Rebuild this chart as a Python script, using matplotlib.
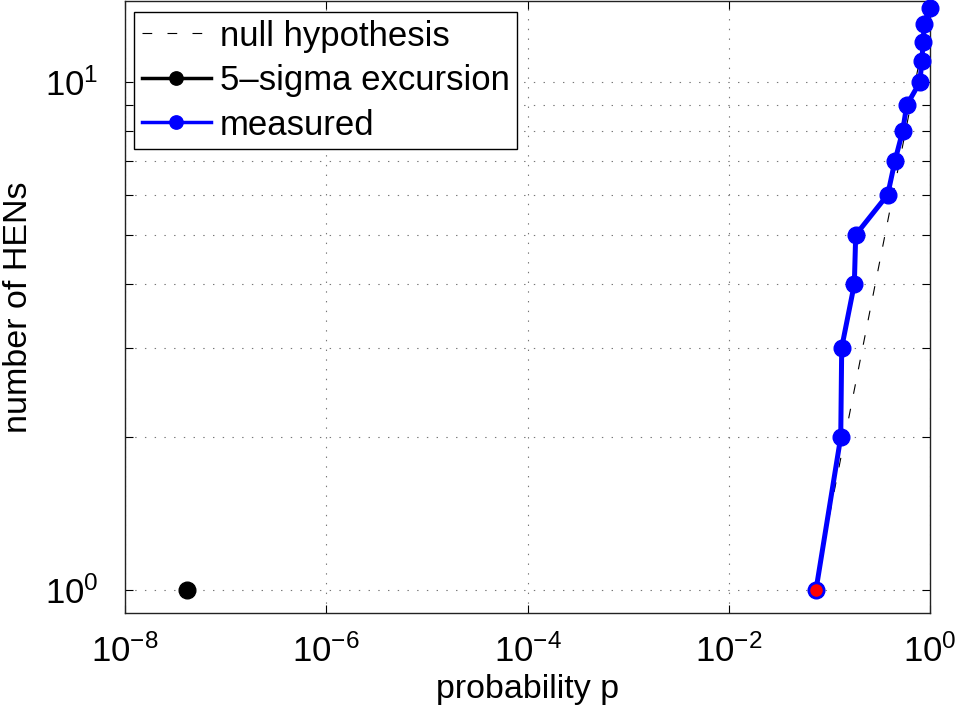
import matplotlib
matplotlib.use("Agg")
import matplotlib.pyplot as plt
from matplotlib.ticker import FixedLocator, NullLocator, NullFormatter, LogFormatterSciNotation
import numpy as np

plt.rcParams['font.family'] = ['Liberation Sans', 'DejaVu Sans']
plt.rcParams['lines.scale_dashes'] = False

# data
measured_n = [1, 2, 3, 4, 5, 6, 7, 8, 9, 10, 11, 12, 13, 14]
measured_p = [0.0736, 0.1297, 0.1326, 0.177, 0.1827, 0.380, 0.449, 0.535,
              0.587, 0.796, 0.827, 0.858, 0.872, 0.99]
null_n = [1, 2, 3, 4, 5, 6, 7, 8, 9, 10, 11, 12, 13, 14]
null_p = [n / 14.0 for n in null_n]
sigma5_n = [1]
sigma5_p = [4.1e-8]
x_ticks = [1e-8, 1e-6, 1e-4, 1e-2, 1e0]
y_major = [1, 10]
y_minor = [2, 3, 4, 5, 6, 7, 8, 9]

fig = plt.figure(figsize=(9.59, 7.15), dpi=100)
ax = fig.add_axes([125/959, 1 - 613/715, (930-125)/959, (613-1)/715])

ax.set_xscale('log')
ax.set_yscale('log')

l_null, = ax.plot(null_p, null_n, color='k', lw=0.8, dashes=(7, 11), zorder=3)
l_sig, = ax.plot(sigma5_p, sigma5_n, '-o', color='k', lw=2.5, ms=12, zorder=4)
l_meas, = ax.plot(measured_p, measured_n, '-o', color='#0000ff', lw=3.6, ms=12,
                  mec='#0000ff', zorder=4, clip_on=False)
ax.plot(measured_p[:1], measured_n[:1], 'o', mfc='#ff0000', mec='#0000ff',
        mew=1.5, ms=10.5, zorder=5)

ax.set_xlim(1e-8, 1)
ax.set_ylim(0.901, 14.43)

ax.xaxis.set_major_locator(FixedLocator(x_ticks))
ax.xaxis.set_minor_locator(NullLocator())
ax.xaxis.set_major_formatter(LogFormatterSciNotation())
ax.yaxis.set_major_locator(FixedLocator(y_major))
ax.yaxis.set_minor_locator(FixedLocator(y_minor))
ax.yaxis.set_major_formatter(LogFormatterSciNotation())
ax.yaxis.set_minor_formatter(NullFormatter())

ax.tick_params(which='both', direction='in', top=True, right=True,
               length=5.8, width=0.8, color='k', labelsize=25)
ax.tick_params(axis='x', pad=15)
ax.tick_params(axis='y', pad=19)

gridstyle = dict(color='#777777', lw=0.8, linestyle=(0, (1, 6)))
ax.grid(True, which='major', axis='x', **gridstyle)
ax.grid(True, which='both', axis='y', **gridstyle)
ax.set_axisbelow(True)

for s in ax.spines.values():
    s.set_linewidth(1.0)
    s.set_color('#222222')

ax.set_xlabel('probability p', fontsize=24.5, labelpad=4)
ax.set_ylabel('number of HENs', fontsize=24.5, labelpad=8)

leg = ax.legend([l_null, l_sig, l_meas],
                ['null hypothesis', '5\u2013sigma excursion', 'measured'],
                loc='upper left', bbox_to_anchor=(9/805, 1 - 11/612),
                borderaxespad=0, fontsize=25, handlelength=2.0,
                handletextpad=0.25, labelspacing=0.33, borderpad=0.22,
                markerscale=0.8, fancybox=False, framealpha=1,
                edgecolor='k')
leg.get_frame().set_linewidth(1.0)
for h in leg.legend_handles:
    if h.get_linestyle() == '-':
        h.set_linewidth(2.5)

fig.savefig('out.png', dpi=100)
